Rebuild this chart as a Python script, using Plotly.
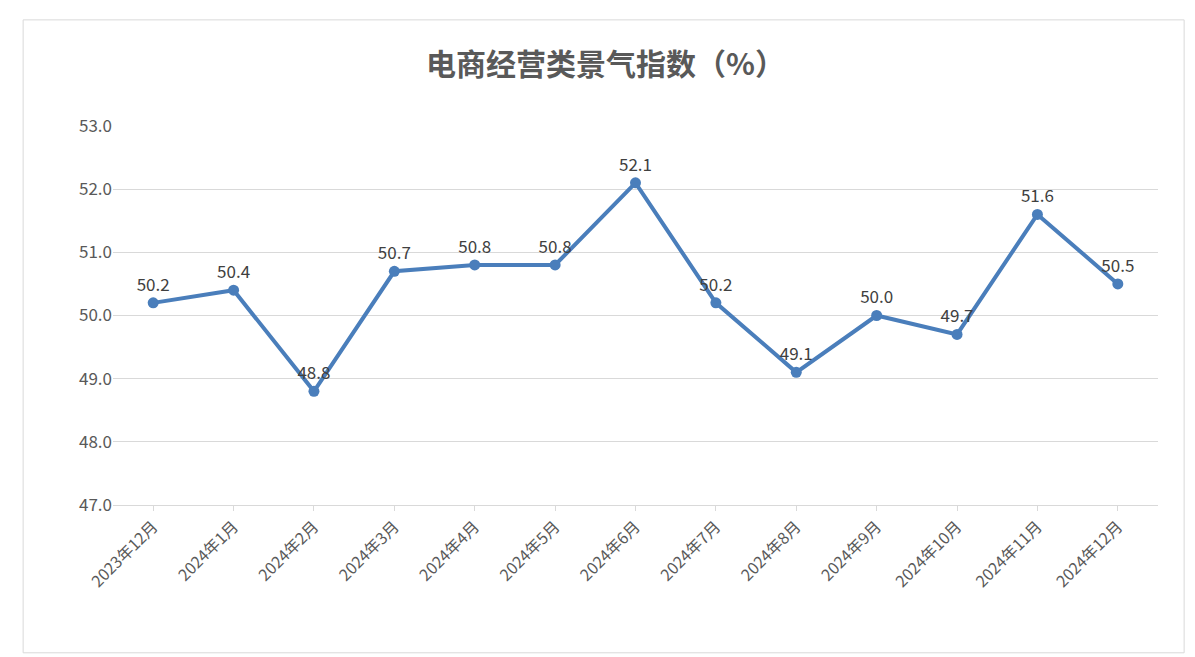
import plotly.graph_objects as go

months = ["2023年12月", "2024年1月", "2024年2月", "2024年3月", "2024年4月", "2024年5月",
          "2024年6月", "2024年7月", "2024年8月", "2024年9月", "2024年10月", "2024年11月", "2024年12月"]
index_values = [50.2, 50.4, 48.8, 50.7, 50.8, 50.8, 52.1, 50.2, 49.1, 50.0, 49.7, 51.6, 50.5]
y_ticks = [47.0, 48.0, 49.0, 50.0, 51.0, 52.0, 53.0]

fig = go.Figure(go.Scatter(
    x=months, y=index_values, mode="lines+markers+text",
    line=dict(color="#4a7ebb", width=4), marker=dict(size=11, color="#4a7ebb"),
    text=[f"{v:.1f}" for v in index_values], textposition="top center",
    textfont=dict(size=17, color="#404040"), cliponaxis=False,
))

fig.update_layout(
    width=1195, height=657,
    paper_bgcolor="white", plot_bgcolor="white",
    font=dict(family="Noto Sans CJK SC", color="#595959"),
    title=dict(text="<b>电商经营类景气指数（%）</b>", x=0.5, y=0.93, xanchor="center",
               font=dict(size=30, color="#595959")),
    margin=dict(l=105, r=45, t=118, b=160),
    showlegend=False,
    shapes=[dict(type="rect", xref="paper", yref="paper", x0=-0.086, x1=1.025, y0=-0.39, y1=1.28,
                 line=dict(color="#d9d9d9", width=1))],
)
fig.update_xaxes(tickangle=-45, tickfont=dict(size=16, color="#595959"),
                 showline=True, linecolor="#d9d9d9", ticks="outside", tickcolor="#d9d9d9",
                 range=[-0.5, 12.5], showgrid=False)
fig.update_yaxes(range=[47, 53], tickvals=y_ticks, tickformat=".1f",
                 tickfont=dict(size=17, color="#595959"),
                 gridcolor="#d9d9d9", zeroline=False)

fig.write_html("out.html")
